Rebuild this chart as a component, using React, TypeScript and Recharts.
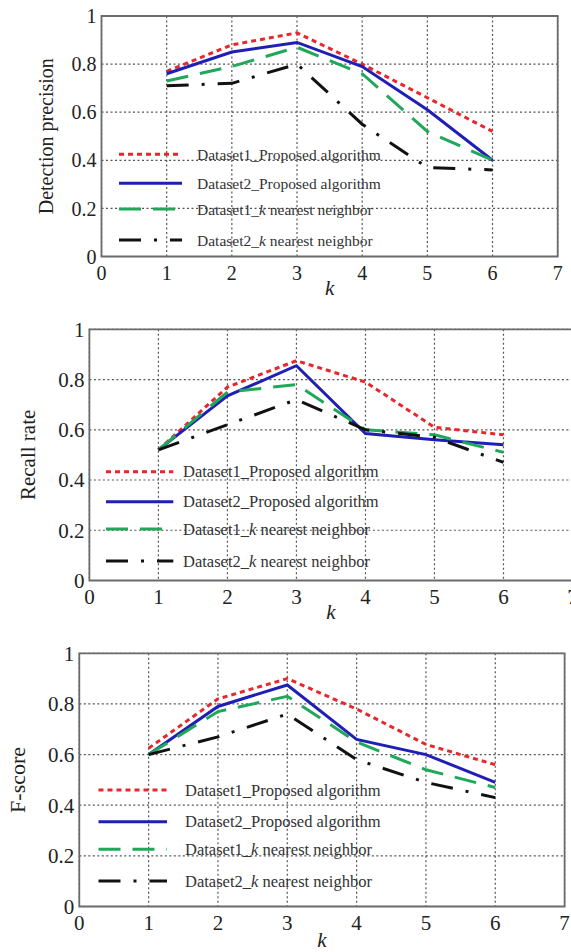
import React from 'react';
import { LineChart, Line, XAxis, YAxis, CartesianGrid, ReferenceArea, Legend } from 'recharts';

// ---------- data ----------
const kValues = [1, 2, 3, 4, 5, 6];
const xTicks = [0, 1, 2, 3, 4, 5, 6, 7];
const yTicks = [0, 0.2, 0.4, 0.6, 0.8, 1];
const seriesNames = [
  'Dataset1_Proposed algorithm',
  'Dataset2_Proposed algorithm',
  'Dataset1_k nearest neighbor',
  'Dataset2_k nearest neighbor',
];

const precisionD1Proposed = [0.77, 0.88, 0.93, 0.8, 0.66, 0.52];
const precisionD2Proposed = [0.76, 0.85, 0.89, 0.79, 0.61, 0.4];
const precisionD1Knn = [0.73, 0.79, 0.87, 0.76, 0.52, 0.4];
const precisionD2Knn = [0.71, 0.72, 0.8, 0.55, 0.37, 0.36];

const recallD1Proposed = [0.52, 0.77, 0.875, 0.79, 0.61, 0.58];
const recallD2Proposed = [0.52, 0.735, 0.855, 0.585, 0.56, 0.54];
const recallD1Knn = [0.52, 0.75, 0.78, 0.6, 0.58, 0.51];
const recallD2Knn = [0.52, 0.62, 0.72, 0.6, 0.57, 0.47];

const fscoreD1Proposed = [0.625, 0.82, 0.9, 0.78, 0.64, 0.56];
const fscoreD2Proposed = [0.6, 0.79, 0.875, 0.66, 0.6, 0.49];
const fscoreD1Knn = [0.6, 0.77, 0.83, 0.65, 0.54, 0.47];
const fscoreD2Knn = [0.6, 0.67, 0.76, 0.58, 0.49, 0.43];

const yLabels = ['Detection precision', 'Recall rate', 'F-score'];
const xLabel = 'k';

// ---------- styles ----------
const FONT = "'Liberation Serif', 'Times New Roman', serif";
const seriesKeys = ['d1p', 'd2p', 'd1k', 'd2k'];
const seriesStyles = [
  { color: '#e8262b', dash: '5 4', width: 3 },
  { color: '#1f1fb5', dash: undefined as string | undefined, width: 3 },
  { color: '#1fa85a', dash: '22 12', width: 3 },
  { color: '#111111', dash: '22 13 3 13', width: 3 },
];

type PanelCfg = {
  top: number;
  height: number;
  width: number;
  plot: { left: number; right: number; top: number; bottom: number };
  series: number[][];
  yLabel: string;
  yLabelX: number;
  yLabelSize: number;
  tickSize: number;
  xLabelDy: number;
  legend: { x1: number; x2: number; textX: number; rows: number[]; fontSize: number };
};

const panels: PanelCfg[] = [
  {
    top: 0,
    height: 305,
    width: 571,
    plot: { left: 101.5, right: 557.7, top: 16, bottom: 256.5 },
    series: [precisionD1Proposed, precisionD2Proposed, precisionD1Knn, precisionD2Knn],
    yLabel: yLabels[0],
    yLabelX: 45.6,
    yLabelSize: 20,
    tickSize: 20,
    xLabelDy: 31,
    legend: { x1: 119, x2: 182, textX: 197, rows: [154.3, 183.3, 209, 240], fontSize: 15.5 },
  },
  {
    top: 300,
    height: 332,
    width: 582,
    plot: { left: 89.4, right: 572.5, top: 329.3, bottom: 580.5 },
    series: [recallD1Proposed, recallD2Proposed, recallD1Knn, recallD2Knn],
    yLabel: yLabels[1],
    yLabelX: 28.5,
    yLabelSize: 21,
    tickSize: 21,
    xLabelDy: 31,
    legend: { x1: 106, x2: 173.3, textX: 183, rows: [471.7, 501.7, 529, 561], fontSize: 16.5 },
  },
  {
    top: 620,
    height: 332,
    width: 571,
    plot: { left: 79.3, right: 564.6, top: 653.3, bottom: 906.5 },
    series: [fscoreD1Proposed, fscoreD2Proposed, fscoreD1Knn, fscoreD2Knn],
    yLabel: yLabels[2],
    yLabelX: 17.5,
    yLabelSize: 22,
    tickSize: 21,
    xLabelDy: 33,
    legend: { x1: 98.5, x2: 167, textX: 185, rows: [790, 821.7, 849.3, 881], fontSize: 16.5 },
  },
];

function renderName(name: string) {
  const idx = name.indexOf('_k ');
  if (idx < 0) return name;
  return [
    <tspan key="a">{name.slice(0, idx + 1)}</tspan>,
    <tspan key="b" fontStyle="italic">k</tspan>,
    <tspan key="c">{name.slice(idx + 2)}</tspan>,
  ];
}

function Panel({ cfg }: { cfg: PanelCfg }) {
  const data = kValues.map((k, i) => {
    const row: Record<string, number> = { k };
    seriesKeys.forEach((key, s) => {
      row[key] = cfg.series[s][i];
    });
    return row;
  });
  const { plot } = cfg;
  const bottomSpace = cfg.top + cfg.height - plot.bottom;
  const margin = {
    top: plot.top - cfg.top,
    bottom: 0,
    left: 0,
    right: cfg.width - plot.right,
  };
  const plotCx = (plot.left + plot.right) / 2;
  const plotCy = (plot.top + plot.bottom) / 2 - cfg.top;

  const legendContent = () => (
    <svg width={cfg.width} height={cfg.height} style={{ display: 'block', pointerEvents: 'none' }}>
      {seriesNames.map((name, i) => {
        const y = cfg.legend.rows[i] - cfg.top;
        const st = seriesStyles[i];
        return (
          <g key={name}>
            <line
              x1={cfg.legend.x1}
              x2={cfg.legend.x2}
              y1={y}
              y2={y}
              stroke={st.color}
              strokeWidth={st.width}
              strokeDasharray={st.dash}
            />
            <text
              x={cfg.legend.textX}
              y={y}
              dominantBaseline="central"
              fontFamily={FONT}
              fontSize={cfg.legend.fontSize}
              fill="#333"
            >
              {renderName(name)}
            </text>
          </g>
        );
      })}
    </svg>
  );

  return (
    <div style={{ position: 'absolute', left: 0, top: cfg.top }}>
      <LineChart width={cfg.width} height={cfg.height} data={data} margin={margin}>
        <CartesianGrid stroke="#555" strokeWidth={1.2} strokeDasharray="2 2.5" />
        <XAxis
          dataKey="k"
          type="number"
          domain={[0, 7]}
          ticks={xTicks}
          interval={0}
          height={bottomSpace}
          tickSize={0}
          tickMargin={9}
          axisLine={false}
          tickLine={false}
          tick={{ fill: '#222', fontSize: cfg.tickSize, fontFamily: FONT }}
          label={{
            value: xLabel,
            content: () => (
              <text
                x={plotCx}
                y={plot.bottom - cfg.top + cfg.xLabelDy}
                textAnchor="middle"
                dominantBaseline="central"
                fontFamily={FONT}
                fontStyle="italic"
                fontSize={21}
                fill="#222"
              >
                {xLabel}
              </text>
            ),
          }}
        />
        <YAxis
          type="number"
          domain={[0, 1]}
          ticks={yTicks}
          interval={0}
          width={plot.left}
          tickSize={0}
          tickMargin={5}
          axisLine={false}
          tickLine={false}
          tickFormatter={(v: number) => String(v)}
          tick={{ fill: '#222', fontSize: cfg.tickSize, fontFamily: FONT }}
          label={{
            value: cfg.yLabel,
            content: () => (
              <text
                x={cfg.yLabelX}
                y={plotCy}
                textAnchor="middle"
                dominantBaseline="central"
                fontFamily={FONT}
                fontSize={cfg.yLabelSize}
                fill="#222"
                transform={`rotate(-90 ${cfg.yLabelX} ${plotCy})`}
              >
                {cfg.yLabel}
              </text>
            ),
          }}
        />
        <ReferenceArea x1={0} x2={7} y1={0} y2={1} fill="none" stroke="#6b6b6b" strokeWidth={1.8} ifOverflow="visible" />
        {seriesKeys.map((key, i) => (
          <Line
            key={key}
            type="linear"
            dataKey={key}
            name={seriesNames[i]}
            stroke={seriesStyles[i].color}
            strokeWidth={seriesStyles[i].width}
            strokeDasharray={seriesStyles[i].dash}
            dot={false}
            activeDot={false}
            isAnimationActive={false}
          />
        ))}
        <Legend
          layout="vertical"
          align="center"
          verticalAlign="middle"
          wrapperStyle={{ left: 0, top: 0, width: cfg.width, height: cfg.height, pointerEvents: 'none' }}
          content={legendContent}
        />
      </LineChart>
    </div>
  );
}

export default function App() {
  return (
    <div
      style={{
        position: 'absolute',
        left: 0,
        top: 0,
        width: 571,
        height: 952,
        overflow: 'hidden',
        background: '#fff',
      }}
    >
      {panels.map((cfg, i) => (
        <Panel key={i} cfg={cfg} />
      ))}
    </div>
  );
}
